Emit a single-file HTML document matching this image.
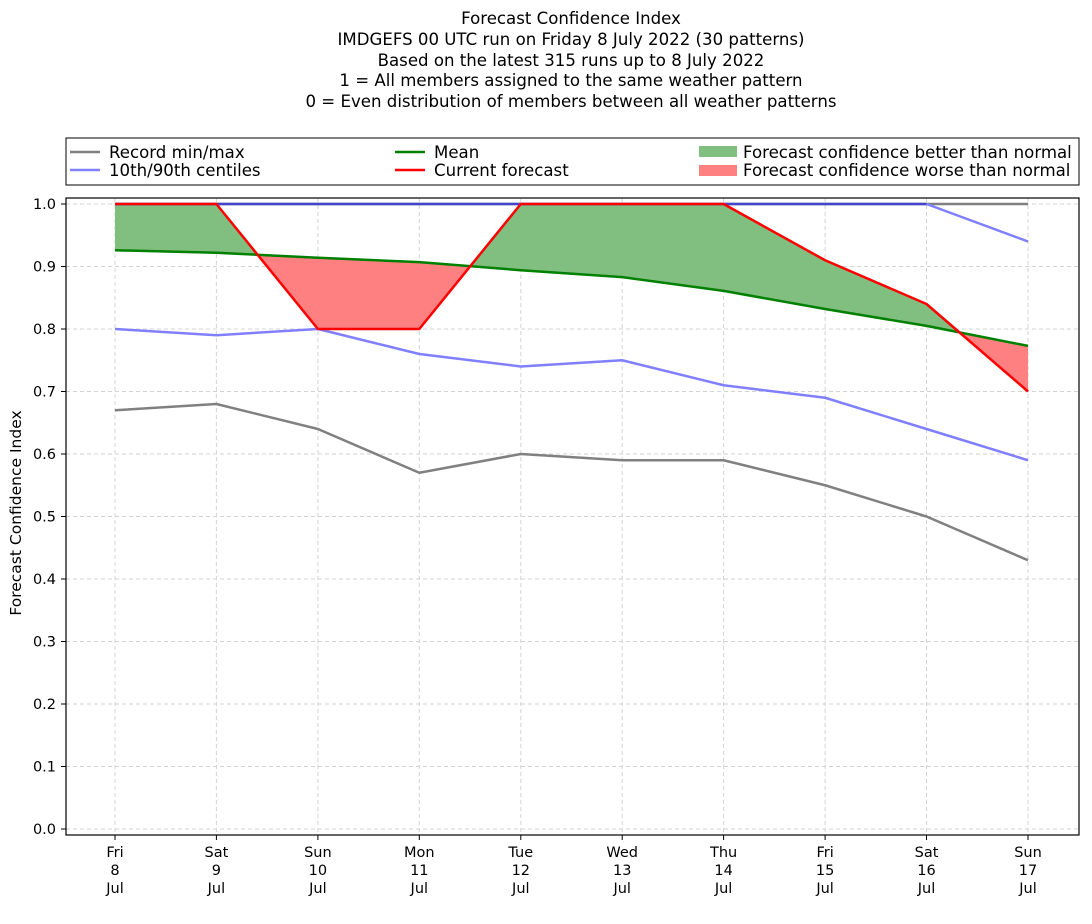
<!DOCTYPE html>
<html><head><meta charset="utf-8"><style>
body{margin:0;background:#fff}
svg{display:block;font-family:"DejaVu Sans","Liberation Sans",sans-serif}
</style></head><body>
<svg width="1092" height="924" viewBox="0 0 1092 924" xmlns="http://www.w3.org/2000/svg">
<rect width="1092" height="924" fill="#fff"/>
<g font-size="16.6" text-anchor="middle" fill="#000">
<text x="571" y="24">Forecast Confidence Index</text>
<text x="571" y="45">IMDGEFS 00 UTC run on Friday 8 July 2022 (30 patterns)</text>
<text x="571" y="66">Based on the latest 315 runs up to 8 July 2022</text>
<text x="571" y="86">1 = All members assigned to the same weather pattern</text>
<text x="571" y="107">0 = Even distribution of members between all weather patterns</text>
</g>
<defs>
<clipPath id="above"><polygon points="115,250.25 216.4,252.75 317.9,257.75 419.3,262.1 520.8,270.25 622.2,277.1 723.6,290.9 825.1,309 926.5,325.9 1028,345.9 1028,100 115,100"/></clipPath>
<clipPath id="below"><polygon points="115,250.25 216.4,252.75 317.9,257.75 419.3,262.1 520.8,270.25 622.2,277.1 723.6,290.9 825.1,309 926.5,325.9 1028,345.9 1028,900 115,900"/></clipPath>
</defs>
<g stroke="#d3d3d3" stroke-width="1" stroke-dasharray="4,3">
<line x1="66" x2="1079" y1="204" y2="204"/><line x1="66" x2="1079" y1="266.5" y2="266.5"/><line x1="66" x2="1079" y1="329" y2="329"/><line x1="66" x2="1079" y1="391.5" y2="391.5"/><line x1="66" x2="1079" y1="454" y2="454"/><line x1="66" x2="1079" y1="516.5" y2="516.5"/><line x1="66" x2="1079" y1="579" y2="579"/><line x1="66" x2="1079" y1="641.5" y2="641.5"/><line x1="66" x2="1079" y1="704" y2="704"/><line x1="66" x2="1079" y1="766.5" y2="766.5"/><line x1="66" x2="1079" y1="829" y2="829"/>
<line y1="198" y2="835" x1="115" x2="115"/><line y1="198" y2="835" x1="216.4" x2="216.4"/><line y1="198" y2="835" x1="317.9" x2="317.9"/><line y1="198" y2="835" x1="419.3" x2="419.3"/><line y1="198" y2="835" x1="520.8" x2="520.8"/><line y1="198" y2="835" x1="622.2" x2="622.2"/><line y1="198" y2="835" x1="723.6" x2="723.6"/><line y1="198" y2="835" x1="825.1" x2="825.1"/><line y1="198" y2="835" x1="926.5" x2="926.5"/><line y1="198" y2="835" x1="1028" x2="1028"/>
</g>
<g>
<polygon clip-path="url(#above)" fill="#80bf80" points="115,204 216.4,204 317.9,329 419.3,329 520.8,204 622.2,204 723.6,204 825.1,260.25 926.5,304 1028,391.5 1028,345.9 926.5,325.9 825.1,309 723.6,290.9 622.2,277.1 520.8,270.25 419.3,262.1 317.9,257.75 216.4,252.75 115,250.25"/>
<polygon clip-path="url(#below)" fill="#ff8080" points="115,204 216.4,204 317.9,329 419.3,329 520.8,204 622.2,204 723.6,204 825.1,260.25 926.5,304 1028,391.5 1028,345.9 926.5,325.9 825.1,309 723.6,290.9 622.2,277.1 520.8,270.25 419.3,262.1 317.9,257.75 216.4,252.75 115,250.25"/>
</g>
<g fill="none" stroke-width="2.5" stroke-linejoin="round">
<polyline stroke="#808080" points="115,204 1028,204"/>
<polyline stroke="#808080" points="115,410.25 216.4,404 317.9,429 419.3,472.75 520.8,454 622.2,460.25 723.6,460.25 825.1,485.25 926.5,516.5 1028,560.25"/>
<polyline stroke="#8080ff" points="115,329 216.4,335.25 317.9,329 419.3,354 520.8,366.5 622.2,360.25 723.6,385.25 825.1,397.75 926.5,429 1028,460.25"/>
<polyline stroke="#4444cc" points="115,204 926.5,204"/>
<polyline stroke="#8080ff" points="926.5,204 1028,241.5"/>
<polyline stroke="#008000" points="115,250.25 216.4,252.75 317.9,257.75 419.3,262.1 520.8,270.25 622.2,277.1 723.6,290.9 825.1,309 926.5,325.9 1028,345.9"/>
<polyline stroke="#ff0000" points="115,204 216.4,204 317.9,329 419.3,329 520.8,204 622.2,204 723.6,204 825.1,260.25 926.5,304 1028,391.5"/>
</g>
<rect x="66" y="198" width="1013" height="637" fill="none" stroke="#000" stroke-width="1.2"/>
<g stroke="#000" stroke-width="1">
<line x1="61" x2="66" y1="204" y2="204"/><line x1="61" x2="66" y1="266.5" y2="266.5"/><line x1="61" x2="66" y1="329" y2="329"/><line x1="61" x2="66" y1="391.5" y2="391.5"/><line x1="61" x2="66" y1="454" y2="454"/><line x1="61" x2="66" y1="516.5" y2="516.5"/><line x1="61" x2="66" y1="579" y2="579"/><line x1="61" x2="66" y1="641.5" y2="641.5"/><line x1="61" x2="66" y1="704" y2="704"/><line x1="61" x2="66" y1="766.5" y2="766.5"/><line x1="61" x2="66" y1="829" y2="829"/>
<line y1="835" y2="840" x1="115" x2="115"/><line y1="835" y2="840" x1="216.4" x2="216.4"/><line y1="835" y2="840" x1="317.9" x2="317.9"/><line y1="835" y2="840" x1="419.3" x2="419.3"/><line y1="835" y2="840" x1="520.8" x2="520.8"/><line y1="835" y2="840" x1="622.2" x2="622.2"/><line y1="835" y2="840" x1="723.6" x2="723.6"/><line y1="835" y2="840" x1="825.1" x2="825.1"/><line y1="835" y2="840" x1="926.5" x2="926.5"/><line y1="835" y2="840" x1="1028" x2="1028"/>
</g>
<g font-size="14.5" text-anchor="end">
<text x="56" y="209">1.0</text><text x="56" y="271.5">0.9</text><text x="56" y="334">0.8</text><text x="56" y="396.5">0.7</text><text x="56" y="459">0.6</text><text x="56" y="521.5">0.5</text><text x="56" y="584">0.4</text><text x="56" y="646.5">0.3</text><text x="56" y="709">0.2</text><text x="56" y="771.5">0.1</text><text x="56" y="834">0.0</text>
</g>
<text font-size="15.5" text-anchor="middle" transform="translate(21,513) rotate(-90)">Forecast Confidence Index</text>
<g font-size="14.5" text-anchor="middle">
<text x="115" y="857">Fri</text><text x="115" y="875">8</text><text x="115" y="893">Jul</text>
<text x="216.4" y="857">Sat</text><text x="216.4" y="875">9</text><text x="216.4" y="893">Jul</text>
<text x="317.9" y="857">Sun</text><text x="317.9" y="875">10</text><text x="317.9" y="893">Jul</text>
<text x="419.3" y="857">Mon</text><text x="419.3" y="875">11</text><text x="419.3" y="893">Jul</text>
<text x="520.8" y="857">Tue</text><text x="520.8" y="875">12</text><text x="520.8" y="893">Jul</text>
<text x="622.2" y="857">Wed</text><text x="622.2" y="875">13</text><text x="622.2" y="893">Jul</text>
<text x="723.6" y="857">Thu</text><text x="723.6" y="875">14</text><text x="723.6" y="893">Jul</text>
<text x="825.1" y="857">Fri</text><text x="825.1" y="875">15</text><text x="825.1" y="893">Jul</text>
<text x="926.5" y="857">Sat</text><text x="926.5" y="875">16</text><text x="926.5" y="893">Jul</text>
<text x="1028" y="857">Sun</text><text x="1028" y="875">17</text><text x="1028" y="893">Jul</text>
</g>
<rect x="66" y="138" width="1013" height="47" fill="#fff" stroke="#000" stroke-width="1"/>
<g stroke-width="2.5">
<line x1="70" x2="100" y1="152" y2="152" stroke="#808080"/>
<line x1="70" x2="100" y1="170" y2="170" stroke="#8080ff"/>
<line x1="395" x2="425" y1="152" y2="152" stroke="#008000"/>
<line x1="395" x2="425" y1="170" y2="170" stroke="#ff0000"/>
</g>
<rect x="699" y="146" width="38" height="11" fill="#80bf80"/>
<rect x="699" y="165" width="38" height="11" fill="#ff8080"/>
<g font-size="16.6">
<text x="109" y="158">Record min/max</text>
<text x="109" y="176">10th/90th centiles</text>
<text x="434" y="158">Mean</text>
<text x="434" y="176">Current forecast</text>
<text x="743" y="158">Forecast confidence better than normal</text>
<text x="743" y="176">Forecast confidence worse than normal</text>
</g>
</svg>
</body></html>
